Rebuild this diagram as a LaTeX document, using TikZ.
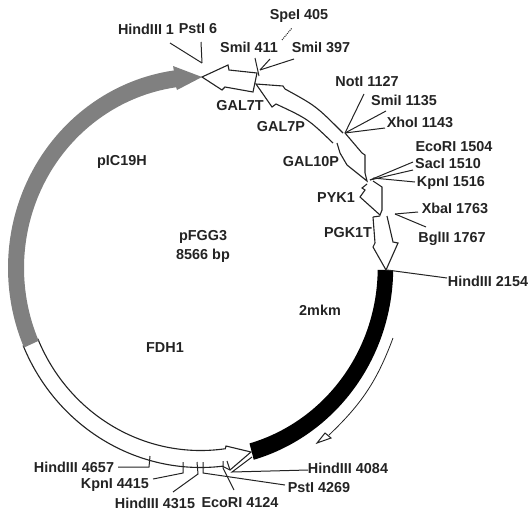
\documentclass[tikz,border=0pt]{standalone}
\usepackage{fontspec}
\setmainfont{Liberation Sans}
\definecolor{ringgray}{RGB}{128,128,128}
\definecolor{inkdark}{RGB}{35,35,35}
\tikzset{
  lbl/.style={inner sep=0pt,outer sep=1pt,text=inkdark,font=\fontsize{14.4}{15}\selectfont\bfseries},
  leader/.style={draw=inkdark,line width=1pt},
  feat/.style={draw=inkdark,line width=1.1pt,fill=white,line join=miter},
}
\newcommand{\ringpt}[3]{([shift={(200.7,268)}]#1:#2 and #3)}
\begin{document}
\begin{tikzpicture}[x=1pt,y=-1pt]
\useasboundingbox (0,0) rectangle (529,514);
% FDH1 white arrow
\draw[feat] \ringpt{157}{176.7}{182.5}
  arc[start angle=157,end angle=82,x radius=176.7,y radius=182.5]
  -- (226,446) -- (251,452) -- (230,470) -- (224,467) -- \ringpt{83.5}{192.7}{199.5}
  arc[start angle=83.5,end angle=157,x radius=192.7,y radius=199.5] -- cycle;
% pIC19H gray arrow
\fill[ringgray] \ringpt{156.5}{176.7}{182.5}
  arc[start angle=156.5,end angle=262,x radius=176.7,y radius=182.5]
  -- (177,90) -- (202,77) -- (173,66) -- \ringpt{262}{192.7}{199.5}
  arc[start angle=262,end angle=156.5,x radius=192.7,y radius=199.5] -- cycle;
% 2mkm black segment
\fill[black] \ringpt{0.6}{177}{182.5}
  arc[start angle=0.6,end angle=74,x radius=177,y radius=182.5]
  -- \ringpt{74}{192.5}{199.5}
  arc[start angle=74,end angle=0.6,x radius=192.5,y radius=199.5] -- cycle;
% thin direction arrow
\coordinate (dirS) at (393,338);
\coordinate (dirE) at (329,435);
\draw[inkdark,line width=0.8pt] (dirS) to[bend left=13] (dirE);
\draw[inkdark,line width=1pt,fill=white] (317,443) -- (325,433) -- (331,438) -- cycle;
% promoter / terminator features
\draw[feat] (257,73) -- (253,92) -- (225,87) -- (222,90) -- (202,77) -- (228,65) -- (229,70) -- cycle;
\draw[feat] (343,133) .. controls (316,106) .. (285,89) -- (283,86) -- (256,84) -- (272,107) -- (276,104)
  .. controls (308,119) .. (333,143);
\draw[feat] (345,133) -- (362,153) -- (365,155) -- (365,173) -- (367,181) -- (347,165) -- (340,153) -- (337,143);
\draw[feat] (373,181) -- (382,187) -- (382,210) -- (380,215) -- (360,197) -- (365,190) -- (362,188) -- (367,184);
\draw[feat] (373,217) -- (375,243) -- (373,247) -- (386,270) -- (398,243) -- (393,242) -- (387,216);
\draw[feat] (373,217) -- (380,216);
% ring anchor points
\coordinate (aTop) at (202,63);
\coordinate (aSpe) at (282,40);
\coordinate (a411) at (259,76);
\coordinate (a397) at (260,70);
\coordinate (aNot) at (345,133);
\coordinate (aEco) at (370,180);
\coordinate (aKpn) at (373,178);
\coordinate (aXba) at (395,214);
\coordinate (aHd) at (387,270);
\coordinate (b4657) at (149,467);
\coordinate (b4415) at (183,473);
\coordinate (b4315) at (198,474);
\coordinate (b4269) at (203,473);
\coordinate (b4124) at (223,468);
\coordinate (b4084) at (232,472);
\coordinate (bEnd) at (252,457);
% labels
\node[lbl] (h1) at (146,29) {HindIII 1};
\node[lbl] (p6) at (198,29) {PstI 6};
\node[lbl] (s405) at (299,16) {SpeI 405};
\node[lbl] (s411) at (249,47) {SmiI 411};
\node[lbl] (s397) at (321,47) {SmiI 397};
\node[lbl] (n1127) at (367,82) {NotI 1127};
\node[lbl] (s1135) at (404,100) {SmiI 1135};
\node[lbl] (x1143) at (420,122) {XhoI 1143};
\node[lbl] (e1504) at (454,147) {EcoRI 1504};
\node[lbl] (s1510) at (448,164) {SacI 1510};
\node[lbl] (k1516) at (451,183) {KpnI 1516};
\node[lbl] (x1763) at (455,208) {XbaI 1763};
\node[lbl] (b1767) at (452,239) {BglII 1767};
\node[lbl] (h2154) at (488,281) {HindIII 2154};
\node[lbl] (h4657) at (74,467) {HindIII 4657};
\node[lbl] (k4415) at (115,485) {KpnI 4415};
\node[lbl] (h4315) at (155,503) {HindIII 4315};
\node[lbl] (e4124) at (240,503) {EcoRI 4124};
\node[lbl] (p4269) at (319,488) {PstI 4269};
\node[lbl] (h4084) at (348,468) {HindIII 4084};
\node[lbl] (gal7t) at (240,106) {GAL7T};
\node[lbl] (gal7p) at (281,127) {GAL7P};
\node[lbl] (gal10p) at (311,162) {GAL10P};
\node[lbl] (pyk) at (336,198) {PYK1};
\node[lbl] (pgk) at (348,233) {PGK1T};
\node[lbl] (pic) at (122,162) {pIC19H};
\node[lbl] (pf) at (203,237) {pFGG3};
\node[lbl] (bp) at (203,256) {8566 bp};
\node[lbl] (mkm) at (320,310) {2mkm};
\node[lbl] (fdh) at (165,348) {FDH1};
% leaders
\draw[leader] (170,43) -- (aTop);
\draw[leader] (201,42) -- (aTop);
\draw[leader,densely dotted] (aSpe) -- (292,28);
\draw[leader] (255,58) -- (a411);
\draw[leader] (270,59) -- (a397);
\draw[leader] (294,59) -- (a397);
\draw[leader] (364,94) -- (aNot);
\draw[leader] (386,111) -- (aNot);
\draw[leader] (385,128) -- (aNot);
\draw[leader] (413,162) -- (aEco);
\draw[leader] (413,170) -- (aEco);
\draw[leader] (415,182) -- (aKpn);
\draw[leader] (418,212) -- (aXba);
\draw[leader] (426,227) -- (aXba);
\draw[leader] (447,278) -- (aHd);
\draw[leader] (118,467) -- (b4657) -- (150,456);
\draw[leader] (153,479) -- (b4415) -- (183,462);
\draw[leader] (173,492) -- (b4315) -- (197,462);
\draw[leader] (285,485) -- (b4269) -- (203,462);
\draw[leader] (234,490) -- (b4124) -- (223,461);
\draw[leader] (308,470) -- (b4084) -- (bEnd);
\draw[leader] (227,461) -- (230,470);
\end{tikzpicture}
\end{document}
